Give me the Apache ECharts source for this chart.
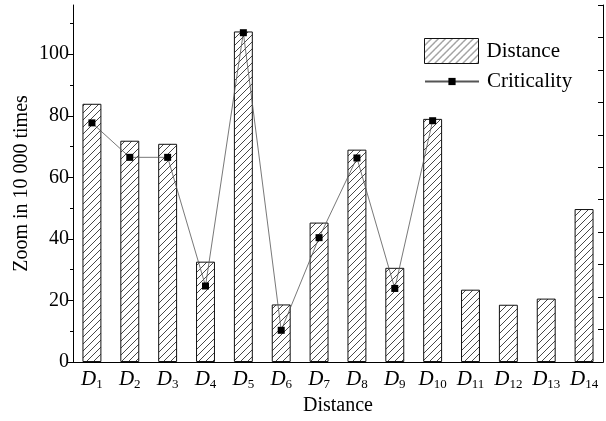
<!DOCTYPE html>
<html>
<head>
<meta charset="utf-8">
<script src="https://cdn.jsdelivr.net/npm/echarts@6/dist/echarts.min.js"></script>
<style>
  html, body { margin: 0; padding: 0; background: #fff; }
  #chart { width: 606px; height: 421px; }
</style>
</head>
<body>
<div id="chart"></div>
<script>
// categories D1..D14 (label number is the subscript)
const categories = ["1", "2", "3", "4", "5", "6", "7", "8", "9", "10", "11", "12", "13", "14"];
// bar values (Distance)
const distance = [83.9, 71.9, 70.9, 32.6, 107.4, 18.7, 45.3, 69.0, 30.6, 79.0, 23.5, 18.6, 20.6, 49.7];
// line values (Criticality), only D1..D10
const criticality = [77.7, 66.5, 66.5, 24.7, 107.0, 10.3, 40.4, 66.3, 23.9, 78.4, null, null, null, null];
const yLabels = [0, 20, 40, 60, 80, 100];
const yMinor = [0, 10, 20, 30, 40, 50, 60, 70, 80, 90, 100, 110];

const FONT = "Liberation Serif";

// hatch pattern ///
function makeHatch() {
  const s = 7;
  const c = document.createElement("canvas");
  c.width = s; c.height = s;
  const ctx = c.getContext("2d");
  ctx.fillStyle = "#fff";
  ctx.fillRect(0, 0, s, s);
  ctx.strokeStyle = "#333";
  ctx.lineWidth = 0.9;
  ctx.beginPath();
  ctx.moveTo(-1, s + 1); ctx.lineTo(s + 1, -1);
  ctx.moveTo(-1, 1); ctx.lineTo(1, -1);
  ctx.moveTo(s - 1, s + 1); ctx.lineTo(s + 1, s - 1);
  ctx.stroke();
  return c;
}
const hatch = { image: makeHatch(), repeat: "repeat" };

const chart = echarts.init(document.getElementById("chart"));

chart.setOption({
  animation: false,
  backgroundColor: "#fff",
  textStyle: { fontFamily: FONT, color: "#000" },
  grid: { left: 73, right: 3, top: 5, bottom: 57 },
  legend: [
    {
      data: [{ name: "Distance", icon: "rect" }],
      left: 419, top: 33,
      itemWidth: 54, itemHeight: 25,
      itemStyle: { borderColor: "#111", borderWidth: 1 },
      textStyle: { fontFamily: FONT, fontSize: 21, color: "#000", padding: [0, 0, 0, 3] },
    },
    {
      data: ["Criticality"],
      left: 419, top: 66,
      itemWidth: 54, itemHeight: 9,
      textStyle: { fontFamily: FONT, fontSize: 21, color: "#000", padding: [0, 0, 0, 3] },
    },
  ],
  xAxis: [
    {
      type: "category",
      data: categories,
      position: "bottom",
      name: "Distance",
      nameLocation: "middle",
      nameGap: 34,
      nameTextStyle: { fontFamily: FONT, fontSize: 20, color: "#000" },
      axisLine: { lineStyle: { color: "#000", width: 1 } },
      axisTick: { alignWithLabel: true, interval: 0, inside: false, length: 5, lineStyle: { color: "#000" } },
      axisLabel: {
        interval: 0,
        margin: 5,
        formatter: v => "{d|D}{s|" + v + "}",
        rich: {
          d: { fontFamily: FONT, fontStyle: "italic", fontSize: 21, color: "#000" },
          s: { fontFamily: FONT, fontSize: 13, color: "#000", padding: [11, 0, 0, 0] },
        },
      },
      splitLine: { show: false },
    },
    {
      type: "category",
      data: categories,
      position: "bottom",
      axisLine: { show: false },
      axisTick: { alignWithLabel: false, interval: 0, length: 3, lineStyle: { color: "#000" } },
      axisLabel: { show: false },
      splitLine: { show: false },
    },
    {
      type: "category",
      data: categories,
      position: "top",
      axisLine: { lineStyle: { color: "#000", width: 1 } },
      axisTick: { alignWithLabel: true, interval: 0, inside: true, length: 5, lineStyle: { color: "#000" } },
      axisLabel: { show: false },
      splitLine: { show: false },
    },
  ],
  yAxis: [
    {
      type: "value",
      position: "left",
      min: 0, max: 116, interval: 20,
      name: "Zoom in 10 000 times",
      nameLocation: "middle",
      nameGap: 41,
      nameMoveOverlap: false,
      nameTextStyle: { fontFamily: FONT, fontSize: 20, color: "#000" },
      axisLine: { show: true, lineStyle: { color: "#000", width: 1 } },
      axisTick: { show: true, length: 5, customValues: yLabels, lineStyle: { color: "#000" } },
      axisLabel: { customValues: yLabels, fontFamily: FONT, fontSize: 20, color: "#000", margin: 4 },
      splitLine: { show: false },
    },
    {
      type: "value",
      position: "left",
      min: 0, max: 116, interval: 10,
      axisLine: { show: false },
      axisTick: { show: true, length: 3, customValues: yMinor, lineStyle: { color: "#000" } },
      axisLabel: { show: false },
      splitLine: { show: false },
    },
    {
      type: "value",
      position: "right",
      min: 0, max: 11, interval: 1,
      axisLine: { show: true, lineStyle: { color: "#000", width: 1 } },
      axisTick: { show: true, inside: true, length: 5, lineStyle: { color: "#000" } },
      axisLabel: { show: false },
      splitLine: { show: false },
    },
  ],
  series: [
    {
      name: "Distance",
      type: "bar",
      xAxisIndex: 0,
      yAxisIndex: 0,
      data: distance,
      barWidth: "50%",
      itemStyle: { color: hatch, borderColor: "#111", borderWidth: 1 },
    },
    {
      name: "Criticality",
      type: "line",
      xAxisIndex: 0,
      yAxisIndex: 0,
      data: criticality,
      symbol: "rect",
      symbolSize: 7,
      z: 5,
      itemStyle: { color: "#000" },
      lineStyle: { color: "#555", width: 0.8 },
    },
  ],
});
</script>
</body>
</html>
